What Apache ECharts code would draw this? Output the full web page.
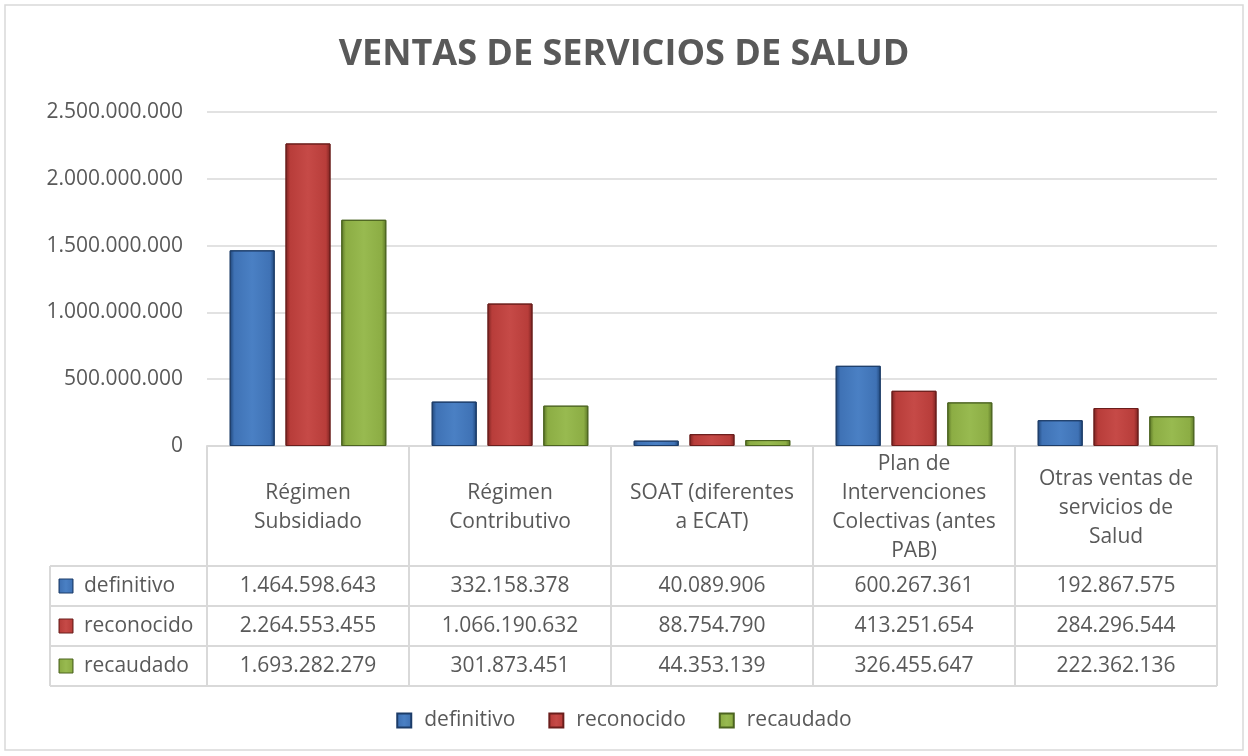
<!DOCTYPE html>
<html>
<head>
<meta charset="utf-8">
<script src="https://cdn.jsdelivr.net/npm/echarts@6/dist/echarts.min.js"></script>
<style>
html,body{margin:0;padding:0;background:#fff;}
#main{width:1248px;height:756px;}
</style>
</head>
<body>
<div id="main"></div>
<script>
//datos
var categorias = ['Régimen\nSubsidiado', 'Régimen\nContributivo', 'SOAT (diferentes\na ECAT)', 'Plan de\nIntervenciones\nColectivas (antes\nPAB)', 'Otras ventas de\nservicios de\nSalud'];
var nombres = ['definitivo', 'reconocido', 'recaudado'];
var definitivo = [1464598643, 332158378, 40089906, 600267361, 192867575];
var reconocido = [2264553455, 1066190632, 88754790, 413251654, 284296544];
var recaudado = [1693282279, 301873451, 44353139, 326455647, 222362136];
var yMax = 2500000000, yPaso = 500000000;

var gris = '#595959', linea = '#d9d9d9';
var fuente = '"Open Sans", "Noto Sans", sans-serif';
var tam = 21;

function puntos(n){
	return String(n).replace(/\B(?=(\d{3})+(?!\d))/g, '.');
}
//bisel
function bisel(oscuro, medio, claro){
	return new echarts.graphic.LinearGradient(0, 0, 1, 0, [
		{offset: 0, color: oscuro},
		{offset: 0.1, color: medio},
		{offset: 0.5, color: claro},
		{offset: 0.9, color: medio},
		{offset: 1, color: oscuro}
	]);
}
var colores = [
	bisel('#1f4578', '#3f72b5', '#4a80c4'),
	bisel('#7a2220', '#b83d3a', '#c64a47'),
	bisel('#5a7526', '#8cad44', '#98ba50')
];
var bordes = ['#1c3c68', '#6b1e1c', '#4c6420'];
var datos = [definitivo, reconocido, recaudado];

var tongjitu = document.querySelector('#main'),
	myChart = echarts.init(tongjitu);

var series = [];
for (var i = 0; i < 3; i++) {
	series.push({
		name: nombres[i],
		type: 'bar',
		barWidth: 45,
		barGap: '24%',
		data: datos[i],
		itemStyle: {color: colores[i], borderColor: bordes[i], borderWidth: 1}
	});
}

var option = {
	backgroundColor: '#fff',
	animation: false,
	textStyle: {fontFamily: fuente},
	title: {
		text: 'VENTAS DE SERVICIOS DE SALUD',
		left: 'center',
		top: 32,
		textStyle: {fontSize: 36, fontWeight: 'bold', color: gris, fontFamily: fuente}
	},
	legend: {
		bottom: 20,
		left: 'center',
		itemWidth: 14,
		itemHeight: 14,
		itemGap: 33,
		icon: 'rect',
		textStyle: {fontSize: tam, color: gris, fontFamily: fuente, padding: [0, 0, 0, 8]},
		data: nombres
	},
	grid: {left: 207, right: 31, top: 112, bottom: 310},
	xAxis: {
		type: 'category',
		data: categorias,
		axisLine: {show: true, lineStyle: {color: linea, width: 2}},
		axisTick: {show: false},
		axisLabel: {
			interval: 0,
			margin: 62,
			verticalAlign: 'middle',
			lineHeight: 29,
			fontSize: tam,
			color: gris,
			fontFamily: fuente
		}
	},
	yAxis: {
		type: 'value',
		min: 0,
		max: yMax,
		interval: yPaso,
		axisLine: {show: false},
		axisTick: {show: false},
		splitLine: {lineStyle: {color: linea, width: 1.5}},
		axisLabel: {
			fontSize: tam,
			color: gris,
			margin: 24,
			fontFamily: fuente,
			formatter: function(v){ return puntos(v); }
		}
	},
	series: series
};
myChart.setOption(option);

//tabla de datos
var izq = 50, x0 = 207, x1 = 1217, yTop = 446, yCab = 566, alto = 40;
var g = [];
var lineaSt = {stroke: linea, lineWidth: 2};
// marco del grafico
g.push({type: 'rect', shape: {x: 5, y: 5, width: 1238, height: 745}, style: {fill: null, stroke: linea, lineWidth: 1.5}, silent: true});
// lineas horizontales
for (var r = 0; r <= 3; r++) {
	var yy = yCab + r * alto;
	g.push({type: 'line', shape: {x1: izq, y1: yy, x2: x1, y2: yy}, style: lineaSt, silent: true});
}
// lineas verticales
var bordesX = [];
for (var c = 0; c <= categorias.length; c++) {
	bordesX.push(x0 + (x1 - x0) * c / categorias.length);
}
bordesX.forEach(function(bx){
	g.push({type: 'line', shape: {x1: bx, y1: yTop, x2: bx, y2: yCab + 3 * alto}, style: lineaSt, silent: true});
});
g.push({type: 'line', shape: {x1: izq, y1: yCab, x2: izq, y2: yCab + 3 * alto}, style: lineaSt, silent: true});

for (var s = 0; s < 3; s++) {
	var cy = yCab + s * alto + alto / 2;
	g.push({type: 'rect', shape: {x: 59, y: cy - 7, width: 14, height: 14}, style: {fill: colores[s], stroke: bordes[s], lineWidth: 1}, silent: true});
	g.push({type: 'text', x: 84, y: cy, style: {text: nombres[s], fontSize: tam, fill: gris, fontFamily: fuente, verticalAlign: 'middle', align: 'left'}, silent: true});
	for (var k = 0; k < categorias.length; k++) {
		var cx = myChart.convertToPixel({xAxisIndex: 0}, k);
		g.push({type: 'text', x: cx, y: cy, style: {text: puntos(datos[s][k]), fontSize: tam, fill: gris, fontFamily: fuente, verticalAlign: 'middle', align: 'center'}, silent: true});
	}
}
myChart.setOption({graphic: g});
</script>
</body>
</html>
